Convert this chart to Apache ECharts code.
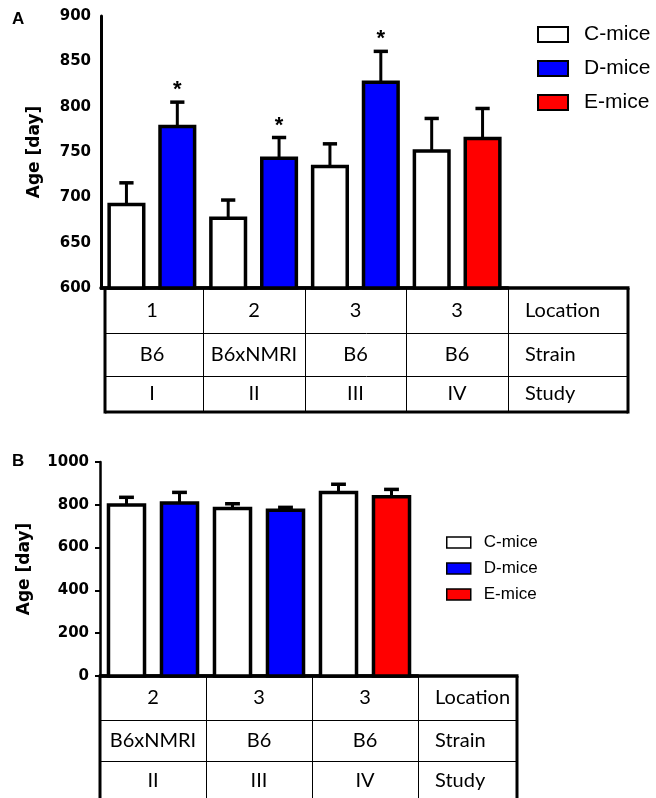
<!DOCTYPE html>
<html>
<head>
<meta charset="utf-8">
<script src="https://cdn.jsdelivr.net/npm/echarts@6/dist/echarts.min.js"></script>
<style>
  html, body { margin: 0; padding: 0; background: #fff; }
  #chart { width: 656px; height: 798px; }
</style>
</head>
<body>
<div id="chart"></div>
<script>
// ---- panel A data ----
const studyA = ['I', 'II', 'III', 'IV'];
const locationA = ['1', '2', '3', '3'];
const strainA = ['B6', 'B6xNMRI', 'B6', 'B6'];
const cMiceA = [692, 677, 734, 751];
const cErrA = [24, 20, 25, 36];
const dMiceA = [778, 743, 827, null];
const dErrA = [27, 23, 34, null];
const eMiceA = [null, null, null, 765];
const eErrA = [null, null, null, 33];
const starA = [1, 1, 1, 0]; // * over D-mice bars

// ---- panel B data ----
const studyB = ['II', 'III', 'IV'];
const locationB = ['2', '3', '3'];
const strainB = ['B6xNMRI', 'B6', 'B6'];
const cMiceB = [799, 783, 857];
const cErrB = [36, 22, 39];
const dMiceB = [808, 774, null];
const dErrB = [50, 14, null];
const eMiceB = [null, null, 838];
const eErrB = [null, null, 34];

const rowNames = ['Location', 'Strain', 'Study'];
const colors = { c: '#ffffff', d: '#0000ff', e: '#ff0000' };

const chart = echarts.init(document.getElementById('chart'));

// [category, value, error, star]
const toPoints = (vals, errs, stars) =>
    vals.map((v, i) => (v == null ? null : [i, v, errs[i], stars ? stars[i] : 0])).filter(Boolean);

// bar + upper error bar, slot -1 = left bar of pair, +1 = right bar
const barRender = (slot, base) => (params, api) => {
    const cat = api.value(0);
    const val = api.value(1);
    const top = api.coord([cat, val]);
    const bottom = api.coord([cat, base]);
    const errTop = api.coord([cat, val + api.value(2)])[1];
    const band = api.size([1, 0])[0];
    const w = band * 0.34;
    const cx = top[0] + slot * band * 0.25;
    const cap = band * 0.14;
    const children = [
        { type: 'line', shape: { x1: cx, y1: top[1], x2: cx, y2: errTop }, style: { stroke: '#000', lineWidth: 3 } },
        { type: 'line', shape: { x1: cx - cap / 2, y1: errTop, x2: cx + cap / 2, y2: errTop }, style: { stroke: '#000', lineWidth: 3.5 } },
        {
            type: 'rect',
            shape: { x: cx - w / 2, y: top[1], width: w, height: bottom[1] - top[1] },
            style: { fill: api.visual('color'), stroke: '#000', lineWidth: 3.5 },
        },
    ];
    if (api.value(3)) {
        children.push({
            type: 'text',
            style: {
                text: '*', x: cx, y: errTop - 12,
                align: 'center', verticalAlign: 'middle', textAlign: 'center', textVerticalAlign: 'middle',
                font: 'bold 22px "Liberation Sans"', fill: '#000',
            },
        });
    }
    return { type: 'group', children };
};

const makeSeries = (name, color, idx, slot, base, data) => ({
    name,
    type: 'custom',
    xAxisIndex: idx,
    yAxisIndex: idx,
    itemStyle: { color },
    encode: { x: 0, y: 1 },
    renderItem: barRender(slot, base),
    data,
    silent: true,
});

const legendData = (bw) => [
    { name: 'C-mice', itemStyle: { color: colors.c, borderColor: '#000', borderWidth: bw } },
    { name: 'D-mice', itemStyle: { color: colors.d, borderColor: '#000', borderWidth: bw } },
    { name: 'E-mice', itemStyle: { color: colors.e, borderColor: '#000', borderWidth: bw } },
];

const boldTick = { fontFamily: 'DejaVu Sans', fontWeight: 'bold', fontSize: 15, color: '#000', formatter: (v) => String(v) };
const axisName = { fontFamily: 'DejaVu Sans', fontWeight: 'bold', fontSize: 17, color: '#000' };
const panelTitle = { fontFamily: 'Liberation Sans', fontWeight: 'bold', fontSize: 17, color: '#000' };

const option = {
    animation: false,
    title: [
        { text: 'A', left: 12, top: 11, padding: 0, textStyle: panelTitle },
        { text: 'B', left: 12, top: 453, padding: 0, textStyle: panelTitle },
    ],
    legend: [
        {
            orient: 'vertical', left: 537, top: 24, padding: 0,
            icon: 'rect', itemWidth: 30, itemHeight: 15, itemGap: 13, selectedMode: false,
            textStyle: { fontFamily: 'Liberation Sans', fontSize: 21, color: '#000', padding: [0, 0, 0, 11] },
            data: legendData(2),
        },
        {
            orient: 'vertical', left: 446, top: 534, padding: 0,
            icon: 'rect', itemWidth: 24, itemHeight: 11, itemGap: 9, selectedMode: false,
            textStyle: { fontFamily: 'Liberation Sans', fontSize: 17, color: '#000', padding: [0, 0, 0, 8] },
            data: legendData(1.5),
        },
    ],
    grid: [
        { left: 101, top: 16, width: 407, height: 272 },
        { left: 100, top: 462, width: 318, height: 214 },
    ],
    xAxis: [
        {
            gridIndex: 0, type: 'category', data: studyA,
            axisLine: { lineStyle: { color: '#000', width: 3.5 } },
            axisTick: { show: false }, axisLabel: { show: false }, splitLine: { show: false },
        },
        {
            gridIndex: 1, type: 'category', data: studyB,
            axisLine: { lineStyle: { color: '#000', width: 3.5 } },
            axisTick: { show: false }, axisLabel: { show: false }, splitLine: { show: false },
        },
    ],
    yAxis: [
        {
            gridIndex: 0, type: 'value', min: 600, max: 900, interval: 50,
            name: 'Age [day]', nameLocation: 'middle', nameRotate: 90, nameGap: 58, nameTextStyle: axisName,
            axisLine: { show: true, lineStyle: { color: '#000', width: 3 } },
            axisTick: { show: false },
            axisLabel: Object.assign({ margin: 10 }, boldTick),
            splitLine: { show: false },
        },
        {
            gridIndex: 1, type: 'value', min: 0, max: 1000, interval: 200,
            name: 'Age [day]', nameLocation: 'middle', nameRotate: 90, nameGap: 67, nameTextStyle: axisName,
            axisLine: { show: true, lineStyle: { color: '#000', width: 2.5 } },
            axisTick: { show: true, length: 5, lineStyle: { color: '#000', width: 2 } },
            axisLabel: Object.assign({ margin: 11 }, boldTick),
            splitLine: { show: false },
        },
    ],
    series: [
        makeSeries('C-mice', colors.c, 0, -1, 600, toPoints(cMiceA, cErrA)),
        makeSeries('D-mice', colors.d, 0, 1, 600, toPoints(dMiceA, dErrA, starA)),
        makeSeries('E-mice', colors.e, 0, 1, 600, toPoints(eMiceA, eErrA)),
        makeSeries('C-mice', colors.c, 1, -1, 0, toPoints(cMiceB, cErrB)),
        makeSeries('D-mice', colors.d, 1, 1, 0, toPoints(dMiceB, dErrB)),
        makeSeries('E-mice', colors.e, 1, 1, 0, toPoints(eMiceB, eErrB)),
    ],
};
chart.setOption(option);

// table under each panel, columns follow the category axis
const tableFont = '20px Lato';
const buildTable = (axisIdx, top, rowH, rightEdge, inset, cols, closed) => {
    const c0 = chart.convertToPixel({ xAxisIndex: axisIdx }, 0);
    const c1 = chart.convertToPixel({ xAxisIndex: axisIdx }, 1);
    const band = c1 - c0;
    const n = cols[0].length;
    const bounds = [];
    for (let i = 0; i <= n; i++) bounds.push(Math.round(c0 - band / 2 + i * band));
    const left = bounds[0] + inset;
    const ys = [top];
    rowH.forEach((h) => ys.push(ys[ys.length - 1] + h));
    const bottom = closed ? ys[ys.length - 1] : 800;
    const els = [];
    const line = (x1, y1, x2, y2, lw) =>
        els.push({ type: 'line', silent: true, shape: { x1, y1, x2, y2 }, style: { stroke: '#000', lineWidth: lw } });

    for (let r = 1; r < rowH.length; r++) line(left, ys[r] + 0.5, rightEdge, ys[r] + 0.5, 1);
    for (let i = 1; i <= n; i++) line(bounds[i] + 0.5, top, bounds[i] + 0.5, bottom, 1);
    line(bounds[0] - 1, top, rightEdge + 1.5, top, 3.5);
    line(left, top, left, bottom + (closed ? 1.5 : 0), 3);
    line(rightEdge, top, rightEdge, bottom + (closed ? 1.5 : 0), 3);
    if (closed) line(left, bottom, rightEdge, bottom, 3);

    cols.forEach((col, r) => {
        const cy = (ys[r] + ys[r + 1]) / 2;
        col.forEach((txt, i) => {
            els.push({
                type: 'text', silent: true,
                style: {
                    text: txt, x: (bounds[i] + bounds[i + 1]) / 2, y: cy,
                    align: 'center', verticalAlign: 'middle', textAlign: 'center', textVerticalAlign: 'middle',
                    font: tableFont, fill: '#000',
                },
            });
        });
        els.push({
            type: 'text', silent: true,
            style: {
                text: rowNames[r], x: bounds[n] + 17, y: cy,
                align: 'left', verticalAlign: 'middle', textAlign: 'left', textVerticalAlign: 'middle',
                font: tableFont, fill: '#000',
            },
        });
    });
    return els;
};

chart.setOption({
    graphic: {
        elements: [
            ...buildTable(0, 288, [45, 43, 36], 628, 4, [locationA, strainA, studyA], true),
            ...buildTable(1, 676, [44, 41, 40], 517, 0, [locationB, strainB, studyB], false),
        ],
    },
});
</script>
</body>
</html>
